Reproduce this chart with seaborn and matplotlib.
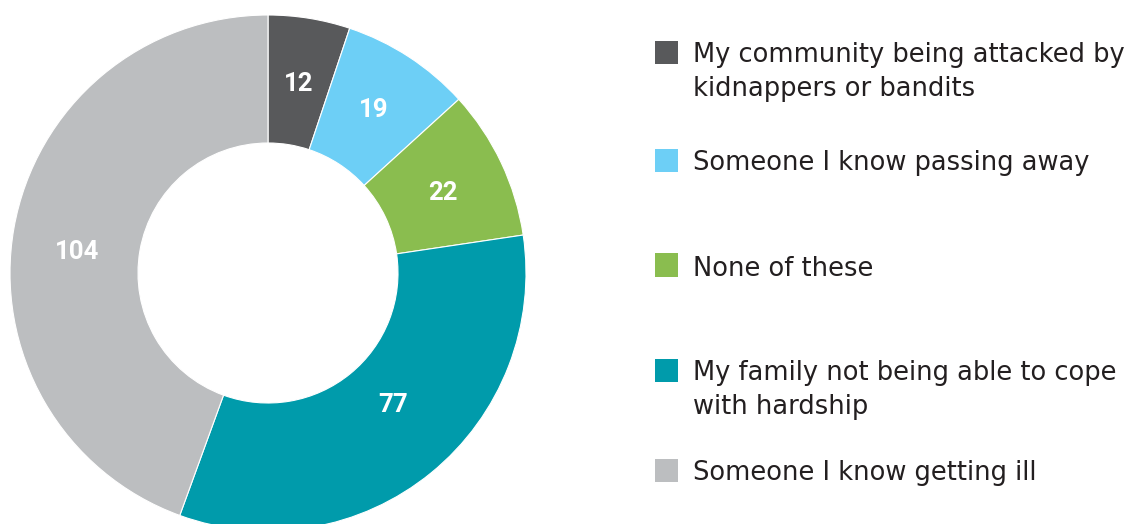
import matplotlib
matplotlib.use("Agg")
import matplotlib.pyplot as plt
import seaborn as sns
from matplotlib.patches import Rectangle

categories = [
    "My community being attacked by\nkidnappers or bandits",
    "Someone I know passing away",
    "None of these",
    "My family not being able to cope\nwith hardship",
    "Someone I know getting ill",
]
values = [12, 19, 22, 77, 104]
colors = ["#58595b", "#6dcff6", "#8abd4f", "#009bab", "#bcbec0"]
legend_y = [52, 160, 265, 370, 470]  # square centres in pixels from top

sns.set_theme(style="white")
plt.rcParams['font.family'] = ['DejaVu Sans']

W, H = 1130, 524
fig = plt.figure(figsize=(W / 100, H / 100), dpi=100)
R = 258
cx, cy = 268, 273
ax = fig.add_axes([(cx - R) / W, (H - cy - R) / H, 2 * R / W, 2 * R / H])
wedges, texts = ax.pie(
    values, colors=colors, startangle=90, counterclock=False, radius=1,
    wedgeprops=dict(width=128 / R, edgecolor="white", linewidth=0.8),
    labels=[str(v) for v in values], labeldistance=0.75,
    textprops=dict(color="white", fontsize=18.5, fontweight="bold", family="Roboto",
                   ha="center", va="center"),
)
# small label nudges (pixels) to match the original placement
nudges = [(0, -2), (0, 1), (0, -3), (3, 18), (0, -13)]
for t, (dx, dy) in zip(texts, nudges):
    x, y = t.get_position()
    t.set_position((x + dx / R, y + dy / R))

ax.set_xlim(-1, 1)
ax.set_ylim(-1, 1)
ax.set_aspect("equal")
ax.axis("off")

sq = 23
line_gap = 34
for lab, col, yc in zip(categories, colors, legend_y):
    fig.patches.append(Rectangle((655 / W, (H - yc - sq / 2) / H), sq / W, sq / H,
                                 transform=fig.transFigure, facecolor=col, edgecolor="none"))
    base = yc + sq / 2 - 1
    for i, line in enumerate(lab.split("\n")):
        fig.text(693 / W, (H - base - i * line_gap) / H, line, ha="left", va="baseline",
                 fontsize=18.5, color="#231f20")

fig.savefig("out.png", dpi=100, facecolor="white")
